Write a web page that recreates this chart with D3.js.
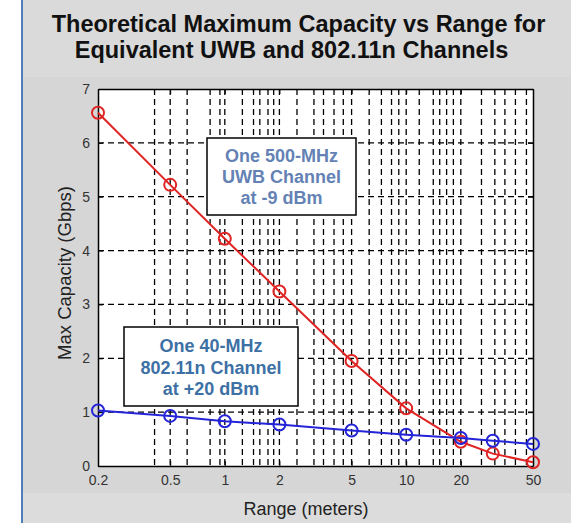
<!DOCTYPE html>
<html>
<head>
<meta charset="utf-8">
<script src="https://cdn.jsdelivr.net/npm/d3@7"></script>
<style>
  body { margin: 0; background: #fff; }
  svg { display: block; font-family: "Liberation Sans", Arial, sans-serif; }
</style>
</head>
<body>
<div id="container"></div>
<script>
const ranges = [0.2, 0.5, 1, 2, 5, 10, 20, 30, 50];
const uwb = [6.56, 5.22, 4.22, 3.24, 1.95, 1.07, 0.45, 0.23, 0.07];
const wifi = [1.03, 0.93, 0.83, 0.77, 0.66, 0.58, 0.52, 0.47, 0.41];
const xTicks = [0.2, 0.5, 1, 2, 5, 10, 20, 50];
const yTicks = [0, 1, 2, 3, 4, 5, 6, 7];
// vertical grid positions (in metres)
const xGrid = [0.41, 0.5, 0.62, 0.83, 0.94, 1, 1.25, 1.44, 1.56, 1.73, 1.86, 2,
  2.5, 3.1, 3.5, 4, 4.5, 5, 6.25, 7.3, 8.3, 9.1, 10, 11.8, 14.1, 15.3, 16.7, 18.2,
  20, 26, 30.8, 35, 40, 46];
const titleLines = ["Theoretical Maximum Capacity vs Range for", "Equivalent UWB and 802.11n Channels"];
const uwbNote = ["One 500-MHz", "UWB Channel", "at -9 dBm"];
const wifiNote = ["One 40-MHz", "802.11n Channel", "at +20 dBm"];

const w = 571;
const h = 523;
const pL = 98, pR = 533, pT = 89, pB = 466;

const svg = d3.select("#container")
  .append("svg")
  .attr("width", w)
  .attr("height", h);

// figure background
svg.append("rect").attr("x", 23).attr("y", 0).attr("width", w - 23).attr("height", h).attr("fill", "#d6d6d6");
svg.append("rect").attr("x", 23).attr("y", 0).attr("width", w - 23).attr("height", 77).attr("fill", "#dadada");
svg.append("rect").attr("x", 23).attr("y", 493).attr("width", w - 23).attr("height", 30).attr("fill", "#dcdcdc");
svg.append("line").attr("x1", 22).attr("x2", 22).attr("y1", 0).attr("y2", h)
  .attr("stroke", "#4f7fb8").attr("stroke-width", 2);

const x = d3.scaleLog().domain([0.2, 50]).range([pL, pR]);
const y = d3.scaleLinear().domain([0, 7]).range([pB, pT]);

svg.append("rect")
  .attr("x", pL).attr("y", pT)
  .attr("width", pR - pL).attr("height", pB - pT)
  .attr("fill", "#fff");

// grid
svg.append("g")
  .selectAll("line")
  .data(xGrid)
  .join("line")
  .attr("x1", d => x(d)).attr("x2", d => x(d))
  .attr("y1", pT).attr("y2", pB)
  .attr("stroke", "#000").attr("stroke-width", 1.3)
  .attr("stroke-dasharray", "6,4");

svg.append("g")
  .selectAll("line")
  .data(yTicks.slice(1, -1))
  .join("line")
  .attr("x1", pL).attr("x2", pR)
  .attr("y1", d => y(d)).attr("y2", d => y(d))
  .attr("stroke", "#000").attr("stroke-width", 1.3)
  .attr("stroke-dasharray", "6,4");

// axes
svg.append("g")
  .attr("transform", `translate(0,${pB})`)
  .call(d3.axisBottom(x).tickValues(xTicks).tickFormat(d3.format("")).tickSizeInner(-5).tickSizeOuter(0).tickPadding(9))
  .call(g => g.select(".domain").attr("stroke", "#000").attr("stroke-width", 1.5))
  .call(g => g.selectAll("text").attr("font-size", 14).attr("fill", "#333"));

svg.append("g")
  .attr("transform", `translate(${pL},0)`)
  .call(d3.axisLeft(y).tickValues(yTicks).tickFormat(d3.format("d")).tickSizeInner(-5).tickSizeOuter(0).tickPadding(8))
  .call(g => g.select(".domain").attr("stroke", "#000").attr("stroke-width", 1.5))
  .call(g => g.selectAll("text").attr("font-size", 14).attr("fill", "#333"));

svg.append("g")
  .attr("transform", `translate(0,${pT})`)
  .call(d3.axisTop(x).tickValues(xTicks).tickFormat("").tickSizeInner(-5).tickSizeOuter(0))
  .call(g => g.select(".domain").attr("stroke", "#000").attr("stroke-width", 1.5));

svg.append("g")
  .attr("transform", `translate(${pR},0)`)
  .call(d3.axisRight(y).tickValues(yTicks).tickFormat("").tickSizeInner(-5).tickSizeOuter(0))
  .call(g => g.select(".domain").attr("stroke", "#000").attr("stroke-width", 1.5));

// series
const line = d3.line().x(d => x(d[0])).y(d => y(d[1]));
const series = [
  { values: uwb, color: "#e02424" },
  { values: wifi, color: "#2424d8" }
];
series.forEach(s => {
  const pts = ranges.map((r, i) => [r, s.values[i]]);
  svg.append("path")
    .datum(pts)
    .attr("d", line)
    .attr("fill", "none")
    .attr("stroke", s.color)
    .attr("stroke-width", 2);
  svg.append("g")
    .selectAll("circle")
    .data(pts)
    .join("circle")
    .attr("cx", d => x(d[0]))
    .attr("cy", d => y(d[1]))
    .attr("r", 6)
    .attr("fill", "none")
    .attr("stroke", s.color)
    .attr("stroke-width", 2);
});

// annotation boxes
function note(lines, bx, by, bw, bh, color, first, step) {
  svg.append("rect")
    .attr("x", bx).attr("y", by).attr("width", bw).attr("height", bh)
    .attr("fill", "#fff").attr("stroke", "#000").attr("stroke-width", 1.5);
  svg.append("text")
    .attr("text-anchor", "middle")
    .attr("font-size", 18)
    .attr("font-weight", "bold")
    .attr("fill", color)
    .selectAll("tspan")
    .data(lines)
    .join("tspan")
    .attr("x", bx + bw / 2)
    .attr("y", (d, i) => by + first + i * step)
    .text(d => d);
}
note(uwbNote, 207, 138, 149, 77, "#6482b4", 24, 21);
note(wifiNote, 124, 327, 174, 79, "#3d70a4", 25, 21.5);

// title and labels
const titleX = [298.5, 291.5];
svg.append("text")
  .attr("text-anchor", "middle")
  .attr("font-size", 23.5)
  .attr("font-weight", "bold")
  .attr("fill", "#111")
  .selectAll("tspan")
  .data(titleLines)
  .join("tspan")
  .attr("x", (d, i) => titleX[i])
  .attr("y", (d, i) => 32 + i * 26)
  .text(d => d);

svg.append("text")
  .attr("x", 306).attr("y", 515)
  .attr("text-anchor", "middle")
  .attr("font-size", 18)
  .attr("fill", "#222")
  .text("Range (meters)");

svg.append("text")
  .attr("transform", `translate(71,273) rotate(-90)`)
  .attr("text-anchor", "middle")
  .attr("font-size", 18.5)
  .attr("fill", "#222")
  .text("Max Capacity (Gbps)");
</script>
</body>
</html>
